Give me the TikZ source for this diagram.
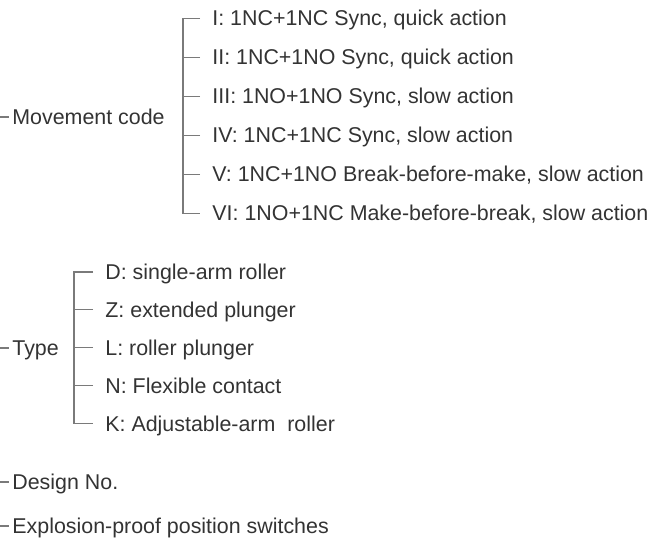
\documentclass[tikz,border=0pt]{standalone}
\usepackage{fontspec}
\setmainfont{Liberation Sans}
\usepackage{tikz}
\usetikzlibrary{positioning}

\definecolor{txtgray}{HTML}{333333}
\definecolor{linegray}{HTML}{7A7A7A}

\tikzset{
  head/.style={anchor=west, inner xsep=1.5pt, inner ysep=0pt, text height=7.6pt, text depth=0pt, text=txtgray, font=\fontsize{10.7pt}{12pt}\selectfont},
  item/.style={anchor=west, inner xsep=6pt, inner ysep=0pt, text height=7.6pt, text depth=0pt, text=txtgray, font=\fontsize{10.7pt}{12pt}\selectfont},
  tick/.style={draw=linegray, line width=0.55pt}
}

\begin{document}
\begin{tikzpicture}[x=0.5pt, y=-0.5pt]
                \useasboundingbox (0,0) rectangle (657,555);

                % top level codes
                \node[head](movement) at (9,117) {Movement code};
                \node[head](type) at (9,348) {Type};
                \node[head](design) at (9,482) {Design No.};
                \node[head](series) at (9,526) {Explosion-proof position switches};

                \coordinate (movementL) at (0,117);
                \coordinate (typeL) at (0,348);
                \coordinate (designL) at (0,482);
                \coordinate (seriesL) at (0,526);

                % movement code items
                \node[item](m1) at (200,18.3) {I: 1NC+1NC Sync, quick action};
                \node[item](m2) at (200,57.3) {II: 1NC+1NO Sync, quick action};
                \node[item](m3) at (200,96.3) {III: 1NO+1NO Sync, slow action};
                \node[item](m4) at (200,135.3) {IV: 1NC+1NC Sync, slow action};
                \node[item](m5) at (200,174.3) {V: 1NC+1NO Break-before-make, slow action};
                \node[item](m6) at (200,213.3) {VI: 1NO+1NC Make-before-break, slow action};
                \coordinate (mspine) at (183,117);

                % type items
                \node[item](t1) at (93,272) {D: single-arm roller};
                \node[item](t2) at (93,309.9) {Z: extended plunger};
                \node[item](t3) at (93,347.8) {L: roller plunger};
                \node[item](t4) at (93,385.7) {N: Flexible contact};
                \node[item](t5) at (93,423.6) {K: Adjustable-arm\ \ roller};
                \coordinate (tspine) at (74,348);

                                \draw[tick] (movementL) -- (movement.west);
                                \draw[tick] (typeL) -- (type.west);
                                \draw[tick] (designL) -- (design.west);
                                \draw[tick] (seriesL) -- (series.west);

                                \draw[tick] (m1.west) -| (mspine) |- (m6.west);
                                \draw[tick] (m2.west) -- (m2.west -| mspine);
                                \draw[tick] (m3.west) -- (m3.west -| mspine);
                                \draw[tick] (m4.west) -- (m4.west -| mspine);
                                \draw[tick] (m5.west) -- (m5.west -| mspine);

                                \draw[tick] (t1.west) -| (tspine) |- (t5.west);
                                \draw[tick] (t2.west) -- (t2.west -| tspine);
                                \draw[tick] (t3.west) -- (t3.west -| tspine);
                                \draw[tick] (t4.west) -- (t4.west -| tspine);

        \end{tikzpicture}
\end{document}
